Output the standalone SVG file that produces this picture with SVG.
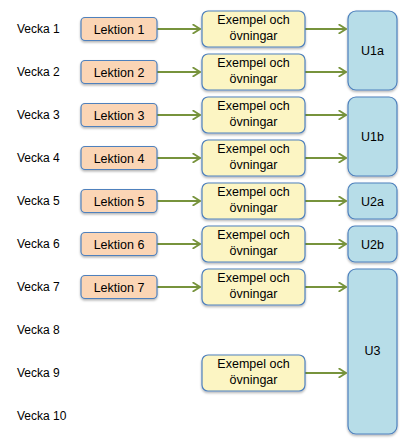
<svg xmlns="http://www.w3.org/2000/svg" width="409" height="444" viewBox="0 0 409 444">
<style>
text{font-family:"Liberation Sans",Arial,sans-serif;font-size:12.5px;fill:#000}
.wk{font-size:12px}
.les{fill:#fbd5b5;stroke:#4f81bd;stroke-width:1.2}
.ex{fill:#fcf5c3;stroke:#4f81bd;stroke-width:1.2}
.u{fill:#b7dde8;stroke:#4f81bd;stroke-width:1.2}
.c{text-anchor:middle}
.ar{stroke:#77933c;stroke-width:2.2;fill:none;marker-end:url(#ah)}
</style>
<defs>
<filter id="sh" x="-10%" y="-10%" width="130%" height="140%">
<feDropShadow dx="0" dy="1.5" stdDeviation="1" flood-color="#000" flood-opacity="0.3"/>
</filter>
<marker id="ah" viewBox="0 0 10 10" refX="9" refY="5" markerWidth="4.8" markerHeight="4.8" orient="auto" markerUnits="strokeWidth">
<path d="M2,0.5 L9,5 L2,9.5" fill="none" stroke="#77933c" stroke-width="1.7"/>
</marker>
</defs>
<g id="weeks">
<text class="wk" x="17" y="33">Vecka 1</text>
<text class="wk" x="17" y="76">Vecka 2</text>
<text class="wk" x="17" y="119">Vecka 3</text>
<text class="wk" x="17" y="162">Vecka 4</text>
<text class="wk" x="17" y="205">Vecka 5</text>
<text class="wk" x="17" y="248">Vecka 6</text>
<text class="wk" x="17" y="291">Vecka 7</text>
<text class="wk" x="17" y="334">Vecka 8</text>
<text class="wk" x="17" y="377">Vecka 9</text>
<text class="wk" x="17" y="420">Vecka 10</text>
</g>
<g id="connectors">
<line class="ar" x1="157" y1="29" x2="200" y2="29"/>
<line class="ar" x1="157" y1="72" x2="200" y2="72"/>
<line class="ar" x1="157" y1="115" x2="200" y2="115"/>
<line class="ar" x1="157" y1="158" x2="200" y2="158"/>
<line class="ar" x1="157" y1="201" x2="200" y2="201"/>
<line class="ar" x1="157" y1="244" x2="200" y2="244"/>
<line class="ar" x1="157" y1="287" x2="200" y2="287"/>
<line class="ar" x1="305" y1="29" x2="346" y2="29"/>
<line class="ar" x1="305" y1="72" x2="346" y2="72"/>
<line class="ar" x1="305" y1="115" x2="346" y2="115"/>
<line class="ar" x1="305" y1="158" x2="346" y2="158"/>
<line class="ar" x1="305" y1="201" x2="346" y2="201"/>
<line class="ar" x1="305" y1="244" x2="346" y2="244"/>
<line class="ar" x1="305" y1="287" x2="346" y2="287"/>
<line class="ar" x1="305" y1="373" x2="346" y2="373"/>
</g>
<g id="lektion1"><rect class="les" filter="url(#sh)" x="81" y="17.5" width="76" height="23" rx="4"/><text class="c" x="119" y="33.5">Lektion 1</text></g>
<g id="lektion2"><rect class="les" filter="url(#sh)" x="81" y="60.5" width="76" height="23" rx="4"/><text class="c" x="119" y="76.5">Lektion 2</text></g>
<g id="lektion3"><rect class="les" filter="url(#sh)" x="81" y="103.5" width="76" height="23" rx="4"/><text class="c" x="119" y="119.5">Lektion 3</text></g>
<g id="lektion4"><rect class="les" filter="url(#sh)" x="81" y="146.5" width="76" height="23" rx="4"/><text class="c" x="119" y="162.5">Lektion 4</text></g>
<g id="lektion5"><rect class="les" filter="url(#sh)" x="81" y="189.5" width="76" height="23" rx="4"/><text class="c" x="119" y="205.5">Lektion 5</text></g>
<g id="lektion6"><rect class="les" filter="url(#sh)" x="81" y="232.5" width="76" height="23" rx="4"/><text class="c" x="119" y="248.5">Lektion 6</text></g>
<g id="lektion7"><rect class="les" filter="url(#sh)" x="81" y="275.5" width="76" height="23" rx="4"/><text class="c" x="119" y="291.5">Lektion 7</text></g>
<g id="exempel1"><rect class="ex" filter="url(#sh)" x="202" y="11" width="103" height="36" rx="6"/><text class="c" x="253.5" y="24">Exempel och</text><text class="c" x="253.5" y="39.5">övningar</text></g>
<g id="exempel2"><rect class="ex" filter="url(#sh)" x="202" y="54" width="103" height="36" rx="6"/><text class="c" x="253.5" y="67">Exempel och</text><text class="c" x="253.5" y="82.5">övningar</text></g>
<g id="exempel3"><rect class="ex" filter="url(#sh)" x="202" y="97" width="103" height="36" rx="6"/><text class="c" x="253.5" y="110">Exempel och</text><text class="c" x="253.5" y="125.5">övningar</text></g>
<g id="exempel4"><rect class="ex" filter="url(#sh)" x="202" y="140" width="103" height="36" rx="6"/><text class="c" x="253.5" y="153">Exempel och</text><text class="c" x="253.5" y="168.5">övningar</text></g>
<g id="exempel5"><rect class="ex" filter="url(#sh)" x="202" y="183" width="103" height="36" rx="6"/><text class="c" x="253.5" y="196">Exempel och</text><text class="c" x="253.5" y="211.5">övningar</text></g>
<g id="exempel6"><rect class="ex" filter="url(#sh)" x="202" y="226" width="103" height="36" rx="6"/><text class="c" x="253.5" y="239">Exempel och</text><text class="c" x="253.5" y="254.5">övningar</text></g>
<g id="exempel7"><rect class="ex" filter="url(#sh)" x="202" y="269" width="103" height="36" rx="6"/><text class="c" x="253.5" y="282">Exempel och</text><text class="c" x="253.5" y="297.5">övningar</text></g>
<g id="exempel9"><rect class="ex" filter="url(#sh)" x="202" y="355" width="103" height="36" rx="6"/><text class="c" x="253.5" y="368">Exempel och</text><text class="c" x="253.5" y="383.5">övningar</text></g>
<g id="U1a"><rect class="u" filter="url(#sh)" x="348" y="11" width="49" height="79" rx="8"/><text class="c" x="372.5" y="55">U1a</text></g>
<g id="U1b"><rect class="u" filter="url(#sh)" x="348" y="97" width="49" height="79" rx="8"/><text class="c" x="372.5" y="141">U1b</text></g>
<g id="U2a"><rect class="u" filter="url(#sh)" x="348" y="183" width="49" height="36" rx="7"/><text class="c" x="372.5" y="205.5">U2a</text></g>
<g id="U2b"><rect class="u" filter="url(#sh)" x="348" y="226" width="49" height="36" rx="7"/><text class="c" x="372.5" y="248.5">U2b</text></g>
<g id="U3"><rect class="u" filter="url(#sh)" x="348" y="269" width="49" height="165" rx="8"/><text class="c" x="372.5" y="355">U3</text></g>
</svg>
